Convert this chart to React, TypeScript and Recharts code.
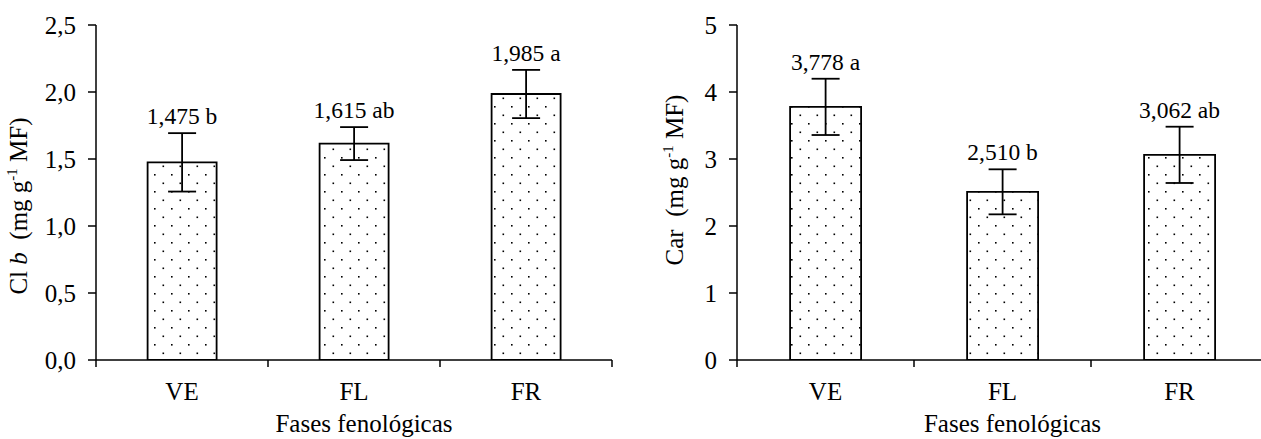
import React from 'react';
import { ComposedChart, Bar, Line, XAxis, YAxis, ErrorBar, LabelList } from 'recharts';

const categories = ['VE', 'FL', 'FR'];

const clbValues = [1.475, 1.615, 1.985];
const clbErrors = [0.218, 0.123, 0.18];
const clbLetters = ['b', 'ab', 'a'];
const clbTicks = [0, 0.5, 1, 1.5, 2, 2.5];

const carValues = [3.778, 2.51, 3.062];
const carErrors = [0.42, 0.336, 0.42];
const carLetters = ['a', 'b', 'ab'];
const carTicks = [0, 1, 2, 3, 4, 5];

const FONT = '"Liberation Serif", "Times New Roman", serif';

const fmt = (v: number, d: number) => v.toFixed(d).replace('.', ',');

const clbData = categories.map((c, i) => ({
  name: c,
  value: clbValues[i],
  err: clbErrors[i],
  top: clbValues[i] + clbErrors[i],
  label: `${fmt(clbValues[i], 3)} ${clbLetters[i]}`,
}));

const carData = categories.map((c, i) => ({
  name: c,
  value: carValues[i],
  err: carErrors[i],
  top: carValues[i] + carErrors[i],
  label: `${fmt(carValues[i], 3)} ${carLetters[i]}`,
}));

function XTick(props: any) {
  const { x, y, payload, index, band } = props;
  return (
    <g>
      <line x1={x - band / 2} x2={x - band / 2} y1={y} y2={y + 7} stroke="#000" strokeWidth={1.5} />
      {index === categories.length - 1 && (
        <line x1={x + band / 2} x2={x + band / 2} y1={y} y2={y + 7} stroke="#000" strokeWidth={1.5} />
      )}
      <text x={x} y={y + 40} textAnchor="middle" fontSize={25} fontFamily={FONT} fill="#000">
        {payload.value}
      </text>
    </g>
  );
}

function XTitle(props: any) {
  const { viewBox, dx } = props;
  const { x, y, width } = viewBox;
  return (
    <text x={x + width / 2 + dx} y={y + 72} textAnchor="middle" fontSize={25} fontFamily={FONT} fill="#000">
      Fases fenológicas
    </text>
  );
}

function YTitle(props: any) {
  const { cx, cy, kind } = props;
  return (
    <text
      x={cx}
      y={cy}
      transform={`rotate(-90, ${cx}, ${cy})`}
      textAnchor="middle"
      fontSize={25}
      fontFamily={FONT}
      fill="#000"
      style={{ whiteSpace: 'pre' }}
    >
      {kind === 'clb' ? (
        <>
          <tspan>Cl </tspan>
          <tspan fontStyle="italic">b</tspan>
          <tspan>{'  (mg g'}</tspan>
        </>
      ) : (
        <tspan>{'Car  (mg g'}</tspan>
      )}
      <tspan dy={-10} fontSize={15}>-1</tspan>
      <tspan dy={10}>{' MF)'}</tspan>
    </text>
  );
}

function DotPattern({ id }: { id: string }) {
  return (
    <defs>
      <pattern id={id} x={1} y={4} width={17} height={17} patternUnits="userSpaceOnUse">
        <rect x={0} y={0} width={17} height={17} fill="#fff" />
        <rect x={0} y={0} width={1.6} height={1.6} fill="#000" />
        <rect x={8.5} y={8.5} width={1.6} height={1.6} fill="#000" />
      </pattern>
    </defs>
  );
}

function Panel(props: any) {
  const { data, ticks, domain, decimals, width, yWidth, marginRight, band, kind, titleCx, titleCy, patId } = props;
  return (
    <ComposedChart
      width={width}
      height={439}
      data={data}
      margin={{ top: 25, right: marginRight, left: 0, bottom: 0 }}
      barCategoryGap="30%"
    >
      <DotPattern id={patId} />
      <XAxis
        dataKey="name"
        height={79}
        axisLine={{ stroke: '#000', strokeWidth: 1.5 }}
        tickLine={false}
        tickSize={0}
        tickMargin={0}
        interval={0}
        tick={<XTick band={band} />}
        label={<XTitle dx={10} />}
      />
      <YAxis
        width={yWidth}
        domain={domain}
        ticks={ticks}
        interval={0}
        allowDataOverflow
        axisLine={{ stroke: '#000', strokeWidth: 1.5 }}
        tickLine={{ stroke: '#000', strokeWidth: 1.5 }}
        tickSize={8}
        tickMargin={12}
        tick={{ fill: '#000', fontSize: 25, fontFamily: FONT }}
        tickFormatter={(v: number) => fmt(v, decimals)}
        label={<YTitle cx={titleCx} cy={titleCy} kind={kind} />}
      />
      <Bar dataKey="value" fill={`url(#${patId})`} stroke="#000" strokeWidth={1.8} isAnimationActive={false}>
        <ErrorBar dataKey="err" width={14} stroke="#000" strokeWidth={1.8} />
      </Bar>
      <Line dataKey="top" stroke="none" dot={false} activeDot={false} isAnimationActive={false} legendType="none">
        <LabelList dataKey="label" position="top" offset={9} fill="#000" fontSize={23.5} fontFamily={FONT} />
      </Line>
    </ComposedChart>
  );
}

export default function App() {
  return (
    <div style={{ position: 'absolute', left: 0, top: 0, width: 1261, height: 439, overflow: 'hidden', background: '#fff' }}>
      <div style={{ position: 'absolute', left: 0, top: 0 }}>
        <Panel
          data={clbData}
          ticks={clbTicks}
          domain={[0, 2.5]}
          decimals={1}
          width={620}
          yWidth={96}
          marginRight={8}
          band={172}
          kind="clb"
          titleCx={27}
          titleCy={206}
          patId="dotsL"
        />
      </div>
      <div style={{ position: 'absolute', left: 620, top: 0 }}>
        <Panel
          data={carData}
          ticks={carTicks}
          domain={[0, 5]}
          decimals={0}
          width={648}
          yWidth={117}
          marginRight={0}
          band={177}
          kind="car"
          titleCx={63}
          titleCy={180}
          patId="dotsR"
        />
      </div>
    </div>
  );
}
